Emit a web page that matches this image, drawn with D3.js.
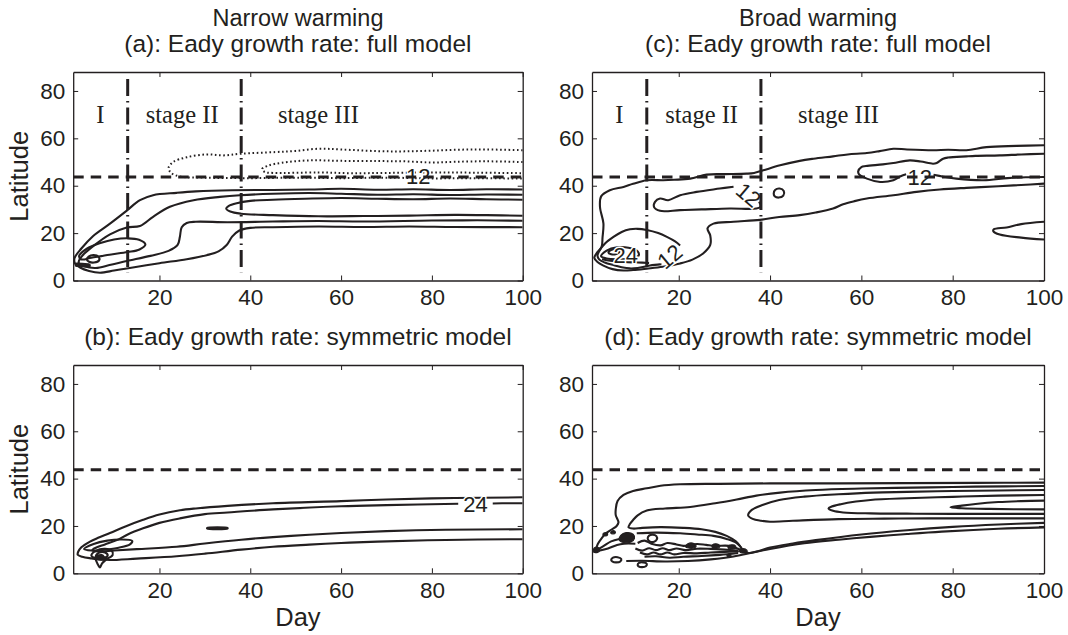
<!DOCTYPE html>
<html>
<head>
<meta charset="utf-8">
<script src="https://cdn.jsdelivr.net/npm/d3@7"></script>
<style>
body { margin: 0; background: #fff; }
svg text { font-family: "Liberation Sans", Arial, Helvetica, sans-serif; fill: #231f20; }
</style>
</head>
<body>
<svg id="chart" width="1068" height="635"></svg>
<script>
// ---- axes, titles and reference lines
var dayDomain = [1, 100];
var latDomain = [0, 88];
var xTickValues = [20, 40, 60, 80, 100];
var yTickValues = [0, 20, 40, 60, 80];
var columnTitles = ["Narrow warming", "Broad warming"];
var panelTitles = [
    "(a): Eady growth rate: full model",
    "(b): Eady growth rate: symmetric model",
    "(c): Eady growth rate: full model",
    "(d): Eady growth rate: symmetric model"
];
var stageDays = [13, 38];
var stageSpan = [3.5, 85];
var jetLatitude = 43.7;
var stageNames = ["I", "stage II", "stage III"];
var stageNameDays = [7, 25, 55];
var stageNameLat = 66.3;

// ---- (a) narrow warming, full model: contour lines as [day, latitude]
var aLevel1 = [[100,38.4],[92,38.5],[84,38.2],[76,38.5],[68,38.3],[60,38.7],[53,38.4],[45,38.2],[36,38.1],[28,37.6],[23.8,37],[18.6,36],[15.7,33.9],[12.8,29.5],[9.1,24],[5.4,18.8],[2.8,13.5],[1.3,9.5],[1.4,7.2],[2.5,5.5],[4.5,4],[6.9,3.3],[10,4.2],[12.8,5.1],[20,7.3],[26,9],[30.4,10.7],[33,12.3],[34.8,15],[36,18.5],[37.5,21],[40,22.2],[45,22.5],[55,22.8],[65,22.6],[75,22.8],[85,22.6],[100,22.5]];
var aLevel2 = [[100,36.2],[92,36.3],[84,36.1],[76,36.4],[68,36.2],[60,36.6],[53,36.9],[45,36.6],[37.7,36],[33.3,35.3],[27.5,33.9],[22.3,31.1],[18.6,26.9],[15.7,23],[12.8,22.4],[9.1,19.5],[5.4,14.5],[2.8,10],[2.2,7.6],[3.5,6],[6,5.3],[9,6.5],[12.8,8.2],[18,10.4],[22,12.5],[24,15],[24.5,18.5],[24.9,22.5],[26,24.3],[28,24.8],[35,24.6],[45,24.9],[55,25.1],[65,24.9],[80,25.3],[90,25.4],[100,25.2]];
var aLevel3 = [[100,34.1],[92,34.3],[84,34.6],[76,34.3],[68,34.5],[60,34.8],[52,34.5],[45,34.1],[40,33.6],[37,32.6],[35.2,31.4],[34.7,30.4],[35.6,29.1],[38,28.2],[45,27.6],[55,27.1],[65,27.2],[75,27.4],[85,27.7],[92,27.6],[100,27.3]];
var aCore = [[2.3,10.3],[4,13.4],[7,15.8],[10,17.3],[13,17.8],[15.5,17.2],[16.9,15.2],[15.6,13.1],[13,12],[9,10.9],[5,9.6],[2.8,8.9]];
var aPeak = [[4,8.8],[4.4,10.1],[5.5,10.7],[6.6,10],[6.7,8.5],[5.6,7.6],[4.5,7.9]];
var aKnot = [[1.8,6.6],[3,6.5],[4.4,6.3]];
var aNeg1 = [[100,55],[92,55.3],[86,55.2],[80,54.8],[74,54.5],[68,54.6],[60,55.3],[55,55.6],[50,54.7],[45.5,54.2],[38,53.5],[34,52.8],[30.4,53.2],[26,52],[23,50],[22,47.5],[22.6,45.4],[24.5,43.9],[30,43.4],[40,43.2],[50,43.4],[60,43.2],[70,43.4],[80,43.1],[90,43.2],[100,43]];
var aNeg2 = [[100,50],[92,50.3],[85,50.1],[80,49.8],[74,50.3],[68,50.4],[60,50.5],[53,50.7],[47,49.7],[44,48.5],[42.6,47],[43.2,45.8],[45,45.4],[55,45.6],[62,45.3],[70,45.4],[80,45.6],[90,45.5],[100,45.3]];
var aLabels = [{text: "12", day: 77, lat: 44, angle: 0}];

// ---- (b) narrow warming, symmetric model
var bLevel1 = [[100,32.1],[85,31.8],[70,31.2],[60,30.5],[45,29.6],[35,28.5],[28,27.4],[24.5,26.6],[20,24.8],[16.4,22.6],[12.5,19.8],[9.1,17],[6.5,15],[4.7,13.4],[2.8,11],[2.1,9.1],[2,7.8],[3,7],[5,6.3],[7,5.8],[9.1,5.6],[15,6.2],[23.8,7.2],[30,8.3],[38,10],[45,11.2],[53,12.1],[60,12.8],[68,13.4],[83,14.1],[100,14.4]];
var bLevel2 = [[85.8,29.4],[70,28.8],[60,28.3],[45,27],[35,25.7],[30,25],[24.5,23.2],[20,21.3],[16.4,19],[13,16.4],[10.6,14],[8,12.2],[6,10.8],[5.2,9.8],[6.5,9.2],[10,9.6],[15,10.2],[23.8,11.2],[30,12.6],[38,14.2],[45,15.3],[53,16.3],[60,17],[70,17.8],[83,18.4],[100,18.6]];
var bLevel2End = [[93.4,29.5],[97,29.6],[100,29.6]];
var bLoop = [[3.4,10.3],[5.5,12.4],[8.5,13.8],[11.5,14.3],[14,13.7],[13.5,12.2],[11,10.8],[8,10],[5,9.6]];
var bRing1 = [[5,7.5],[6,9.5],[8,10.3],[9.5,9.5],[9.7,7.8],[8.5,6.3],[6.5,5.9]];
var bRing2 = [[6,7.3],[6.8,8.8],[8,8.8],[8.6,7.6],[7.8,6.5],[6.7,6.6]];
var bSpike = [[5.8,6.5],[6.5,3.5],[6.9,2.5],[7.3,4],[8.5,6.3]];
var bKnot = [[6.2,6.8],[7.2,7.2],[7.6,6.5]];
var bSpeck = [[30.5,19.1],[35,19.1],[35,18.9],[30.5,18.9]];
var bLabels = [{text: "24", day: 89.6, lat: 29.4, angle: 0}];

// ---- (c) broad warming, full model
var cLevel1 = [[100,57.1],[94,56.8],[87.4,56.3],[83,55],[79,55.2],[75.7,55],[70,55.3],[67,55.6],[64,54.6],[61.2,53.8],[57,53.2],[53.8,52.4],[49.5,51.4],[46.5,50.5],[42.2,48.6],[38.5,46.5],[36.5,45.4],[34.9,45.1],[30,44.9],[26.1,44.7],[22.5,43],[19,42.5],[16.6,42.3],[13,42.3],[10,40.8],[7.9,39.5],[4.9,38.1],[3,35.5],[2.75,31],[3.5,24.1],[3.3,18],[3.1,14.2],[2,11.5],[1.5,9.5],[2.2,7.8],[3.5,6.3],[5.5,4.8],[7.9,4.2],[10,4.4],[13,5],[16.5,5.8],[20.3,7.2],[23,8.8],[25.4,11.5],[26.9,15],[26.9,19],[26.3,22],[27.6,24],[32,24.8],[37.8,25.6],[42,26.8],[46.5,27.6],[50,28.7],[53.8,30.4],[56,32.2],[58.5,33.5],[61.2,34.6],[67,36],[72.1,37.4],[77.2,38.4],[83,39.1],[90,39.8],[95,40.3],[100,40.9]];
var cLevel2 = [[100,53.5],[95,53.2],[90.3,52.8],[85,52.6],[83,52.4],[79,51.9],[77.9,51.4],[76.5,49.6],[75.7,49.3],[73,50.2],[70.6,50.7],[67,49.6],[64.7,49],[61,48.3],[60,47.9],[59.3,46],[59.5,44.8],[61.2,43],[64.1,41.6],[67,42.3],[68.6,44],[69.8,44.8]];
var cLevel2End = [[75.8,44.6],[78,43.8],[80.8,43],[86.7,42.3],[92,43.2],[96,43.6],[100,43.7]];
var cTongue = [[100,24.8],[95,23.8],[91.8,22.4],[89,21.6],[88.9,20.8],[90.3,19.4],[95,18.1],[100,17.3]];
var cStageLoop = [[37.6,33.3],[37.9,31.2],[37,30.4],[31.2,30.4],[25,30],[20.3,29.7],[15.9,29.4],[14.6,31],[14.8,33.2],[15.9,34.6],[17.7,33.9],[20.3,36],[23.9,37.4],[29,38.8],[32,39.6]];
var cDot = [[40.8,36.7],[41.1,38.2],[42.1,38.8],[43,37.8],[42.9,35.8],[41.9,35],[41,35.6]];
var cLowLoop = [[16.2,6.9],[13.7,6.3],[11,5.3],[9.3,5.1],[7.5,5.6],[5.7,6.5],[3.8,7.6],[2.6,8.8],[2.2,10.5],[2.6,12.5],[3.8,15.5],[5.7,18.4],[7.5,20.5],[9.3,21.6],[11,21.8],[13,21.3],[15.5,20],[17.4,18.4],[19.2,16.5],[20.3,14.8]];
var cLoop24 = [[3,10.2],[4.2,12.6],[6.5,14],[9,13.8],[11,12.3],[11.2,10.5],[9.5,9.3],[6.5,9],[4.2,9.3]];
var cPeak = [[4.6,11.8],[5.3,13],[6.5,13.2],[7,12.2],[6.3,11.2],[5.2,11.1]];
var cStreak = [[3.2,9],[5,8.3],[8,7.8],[11,7.6],[13.5,7.4]];
var cLabels = [
    {text: "12", day: 35.3, lat: 36.2, angle: 40},
    {text: "12", day: 72.8, lat: 43.5, angle: 0},
    {text: "12", day: 18, lat: 10.2, angle: -40},
    {text: "24", day: 8.4, lat: 10.8, angle: 0}
];

// ---- (d) broad warming, symmetric model
var dLevel1Top = [[100,38.3],[85,38.2],[70,38.1],[55,38],[40,38],[28.7,37.8],[20.3,37.6],[16,37],[13,35.9],[10,34.8],[7.9,33.1],[6.6,30.5],[6.2,27],[6.2,24.6],[6.8,21.5],[6.4,20],[5.3,18.5],[4,16.8],[3.1,14.8],[2.3,12.5],[2,11],[1.8,9.5]];
var dLevel1Low = [[8.5,5.2],[12,5.3],[17,5],[22,5.2],[27,5.9],[32,7.1],[36,8.7],[40,10.3],[47.5,12.7],[55,14.2],[62.6,15.5],[70,16.6],[77.6,17.6],[90,18.8],[100,19.4]];
var dLevel2 = [[100,36.9],[85,36.6],[75,36.3],[60,35.8],[50,35.2],[42.2,34.1],[37,32.8],[32.7,31.2],[28,29.6],[22.5,28],[17,27.4],[13,26.5],[11,24.5],[10,22.5],[9.3,20.8],[9,19.4],[10,18.9],[12,19.2],[16,19.5],[21,19.2],[25,18.6],[28,17.5],[30.5,15.8],[32.5,13.5],[33.6,11],[34.2,9.2],[35.5,8.6],[37.5,9.4],[40,10.9],[45,12.6],[50,14],[60,16.4],[70,18.2],[80,19.6],[90,20.6],[100,21.3]];
var dLevel3 = [[100,35.2],[90,35],[80,34.8],[70,34.4],[62.6,34.1],[55,33.4],[47.5,32.4],[42,31],[38.5,29],[36,26.8],[35.2,24.5],[36.2,23],[38,22.2],[40,21.8],[45,22.2],[55,22.9],[65,23.1],[75,23.2],[90,23.2],[100,23.2]];
var dLevel4 = [[100,33.1],[90,32.8],[80,32.3],[70,31.7],[62,31],[58.8,30.3],[55.5,29.2],[53.5,28.2],[52.8,27.4],[53.8,26.4],[56,25.7],[62,25.3],[70,25.2],[80,25.1],[100,25.1]];
var dLevel5 = [[100,30.7],[95,30.5],[90,30.1],[85,29.3],[82,28.6],[79.5,27.9],[82,27.5],[88,27.2],[100,27]];
var dInner = [[10.8,16.9],[15,17.2],[20.3,16.9],[24,16.4],[27.6,15.8],[30.5,14.5],[32.7,12.7],[33.8,10],[33,9.2]];
var dWave1 = [[11,12.8],[12.5,13.8],[14,12.5],[16,11.8],[17.5,12.8],[19.5,12.2],[21,11.6],[24,12.4],[26,12],[28,11.6],[31,11.6],[33,10.4],[34.2,9.5]];
var dWave2 = [[10.5,10.5],[12,9.6],[13.5,10.6],[15,9.8],[16.5,10.6],[18,9.8],[19.5,10.5],[21.5,9.8],[24,10.4],[27,10.3],[30,10],[33,9.6]];
var dWave3 = [[11.5,8.8],[13,8],[14.5,8.8],[16,8],[17.5,8.8],[19,8],[21,8.6],[24,8.4],[27,8.8],[30,9],[33,9.2]];
var dWave4 = [[12.5,7],[15,7.2],[18,6.6],[21,7],[25,7.3],[29,7.8],[33,8.6]];
var dLeft1 = [[2,9.8],[3.5,11.5],[5.2,13.5],[7,14.5]];
var dLeft2 = [[2.5,9.5],[4.5,10.5],[6.5,12],[8,12.5],[10.5,12.5]];
var dRing1 = [[13.2,14.5],[13.5,15.9],[14.3,16.3],[15.1,15.7],[15.2,14.3],[14.6,13.3],[13.6,13.5]];
var dRing2 = [[5.2,5.6],[5.6,6.6],[6.6,6.8],[7.4,6.1],[7.2,5],[6.3,4.6],[5.5,4.9]];
var dRing3 = [[11,3.5],[11.3,4.4],[12.2,4.6],[13,4],[12.8,3],[12,2.6],[11.2,2.9]];
var dBlob1 = [[1.3,9],[1.5,10.7],[2.3,11],[2.7,10],[2.2,8.8]];
var dBlob2 = [[7,14],[7.3,16],[8.5,17.2],[10,16.5],[10.3,14.8],[9.5,13.2],[8,13]];
var dBlob3 = [[21.5,11.2],[22,12.5],[23.3,12.6],[23.8,11.5],[23,10.6]];
var dBlob4 = [[27.3,11],[27.5,12.2],[28.6,12.3],[29,11.3],[28.2,10.6]];
var dBlob5 = [[30.8,10.7],[31,11.8],[32.2,11.9],[32.5,10.9],[31.8,10.3]];
var dBlob6 = [[33.4,9],[33.6,10.1],[34.6,10.2],[35,9.2],[34.2,8.6]];
var dBlob7 = [[3.4,16.2],[3.6,17],[4.3,17],[4.4,16.2],[3.9,15.8]];
var dBlob8 = [[5.1,17],[5.3,17.8],[6,17.8],[6.1,17],[5.6,16.6]];
var dBlob9 = [[30.6,7.3],[30.7,8],[31.3,8],[31.4,7.3]];

var ink = "#231f20";
var svg = d3.select("#chart");

function lineSet(open, closed, dotted, knots, blobs) {
    var list = [];
    (open || []).forEach(function(p) { list.push({pts: p, closed: false, kind: "solid"}); });
    (closed || []).forEach(function(p) { list.push({pts: p, closed: true, kind: "solid"}); });
    (dotted || []).forEach(function(p) { list.push({pts: p, closed: false, kind: "dotted"}); });
    (knots || []).forEach(function(p) { list.push({pts: p, closed: false, kind: "knot"}); });
    (blobs || []).forEach(function(p) { list.push({pts: p, closed: true, kind: "blob"}); });
    return list;
}

var panels = [
    {id: "a", left: 73.2, top: 72, width: 449.5, height: 208.5, title: panelTitles[0], column: columnTitles[0],
     stages: true, xLabel: false,
     lines: lineSet([aLevel1, aLevel2, aLevel3], [aCore, aPeak], [aNeg1, aNeg2], [aKnot], []),
     labels: aLabels},
    {id: "b", left: 73.2, top: 365, width: 449.5, height: 208.3, title: panelTitles[1],
     stages: false, xLabel: true,
     lines: lineSet([bLevel1, bLevel2, bLevel2End, bSpike], [bLoop, bRing1, bRing2, bSpeck], [], [bKnot], []),
     labels: bLabels},
    {id: "c", left: 592, top: 72, width: 452, height: 208.5, title: panelTitles[2], column: columnTitles[1],
     stages: true, xLabel: false,
     lines: lineSet([cLevel1, cLevel2, cLevel2End, cTongue, cStageLoop, cLowLoop, cStreak], [cDot, cLoop24, cPeak], [], [], []),
     labels: cLabels},
    {id: "d", left: 592, top: 365, width: 452, height: 208.3, title: panelTitles[3],
     stages: false, xLabel: true,
     lines: lineSet([dLevel1Top, dLevel1Low, dLevel2, dLevel3, dLevel4, dLevel5, dInner, dWave1, dWave2, dWave3, dWave4, dLeft1, dLeft2],
                    [dRing1, dRing2, dRing3], [], [],
                    [dBlob1, dBlob2, dBlob3, dBlob4, dBlob5, dBlob6, dBlob7, dBlob8, dBlob9]),
     labels: []}
];

panels.forEach(function(p, i) {
    var x = d3.scaleLinear().domain(dayDomain).range([p.left, p.left + p.width]);
    var y = d3.scaleLinear().domain(latDomain).range([p.top + p.height, p.top]);
    var cx = p.left + p.width / 2;

    var clipId = "clip-" + p.id;
    svg.append("clipPath").attr("id", clipId)
        .append("rect")
        .attr("x", p.left).attr("y", p.top)
        .attr("width", p.width).attr("height", p.height);

    var g = svg.append("g").attr("clip-path", "url(#" + clipId + ")");

    var openLine = d3.line().x(function(d) { return x(d[0]); }).y(function(d) { return y(d[1]); })
        .curve(d3.curveCatmullRom.alpha(0.5));
    var closedLine = d3.line().x(function(d) { return x(d[0]); }).y(function(d) { return y(d[1]); })
        .curve(d3.curveCatmullRomClosed.alpha(0.5));

    p.lines.forEach(function(c) {
        var path = g.append("path")
            .attr("d", c.closed ? closedLine(c.pts) : openLine(c.pts))
            .attr("fill", c.kind == "blob" ? ink : "none")
            .attr("stroke", ink)
            .attr("stroke-linejoin", "round");
        if (c.kind == "dotted") {
            path.attr("stroke-width", 2).attr("stroke-dasharray", "1.6,2.6");
        } else if (c.kind == "knot") {
            path.attr("stroke-width", 4.5).attr("stroke-linecap", "round");
        } else {
            path.attr("stroke-width", c.kind == "blob" ? 1.2 : 2.1);
        }
    });

    // contour level labels, lines broken under them
    p.labels.forEach(function(l) {
        g.append("text")
            .attr("transform", "translate(" + x(l.day) + "," + y(l.lat) + ") rotate(" + l.angle + ")")
            .attr("text-anchor", "middle")
            .attr("dy", "0.36em")
            .style("font-size", "22px")
            .attr("stroke", "#fff")
            .attr("stroke-width", 3)
            .attr("paint-order", "stroke")
            .text(l.text);
    });

    // reference latitude and stage boundaries
    var refLine = d3.line().x(function(d) { return x(d[0]); }).y(function(d) { return y(d[1]); });
    g.append("path")
        .attr("d", refLine([[dayDomain[0], jetLatitude], [dayDomain[1], jetLatitude]]))
        .attr("stroke", ink).attr("stroke-width", 3)
        .attr("stroke-dasharray", "10.5,7")
        .attr("fill", "none");

    if (p.stages) {
        stageDays.forEach(function(day) {
            g.append("path")
                .attr("d", refLine([[day, stageSpan[1]], [day, stageSpan[0]]]))
                .attr("stroke", ink).attr("stroke-width", 3)
                .attr("stroke-dasharray", "17,5,1.5,5")
                .attr("fill", "none");
        });
        stageNames.forEach(function(name, k) {
            svg.append("text")
                .attr("x", x(stageNameDays[k]))
                .attr("y", y(stageNameLat))
                .attr("text-anchor", "middle")
                .style("font-family", "'Liberation Serif', 'Times New Roman', serif")
                .style("font-size", "24.5px")
                .text(name);
        });
    }

    // axes with inward ticks on all four sides
    var bottom = svg.append("g").attr("transform", "translate(0," + (p.top + p.height) + ")")
        .call(d3.axisBottom(x).tickValues(xTickValues).tickSizeInner(-5).tickSizeOuter(0).tickPadding(9));
    var top = svg.append("g").attr("transform", "translate(0," + p.top + ")")
        .call(d3.axisTop(x).tickValues(xTickValues).tickSizeInner(-5).tickSizeOuter(0).tickFormat(""));
    var left = svg.append("g").attr("transform", "translate(" + p.left + ",0)")
        .call(d3.axisLeft(y).tickValues(yTickValues).tickSizeInner(-5).tickSizeOuter(0).tickPadding(8));
    var right = svg.append("g").attr("transform", "translate(" + (p.left + p.width) + ",0)")
        .call(d3.axisRight(y).tickValues(yTickValues).tickSizeInner(-5).tickSizeOuter(0).tickFormat(""));

    [bottom, top, left, right].forEach(function(ax) {
        ax.selectAll("path.domain").attr("stroke", ink).attr("stroke-width", 1.3);
        ax.selectAll(".tick line").attr("stroke", ink).attr("stroke-width", 1);
        ax.selectAll("text").style("font-size", "22.5px").attr("fill", ink)
            .style("font-family", "'Liberation Sans', Arial, Helvetica, sans-serif");
    });

    // titles and axis labels
    if (p.column) {
        svg.append("text").attr("x", cx).attr("y", 26)
            .attr("text-anchor", "middle").style("font-size", "23.5px").text(p.column);
    }
    svg.append("text").attr("x", cx).attr("y", p.top - 20)
        .attr("text-anchor", "middle").style("font-size", "24.5px").text(p.title);

    if (p.left < 300) {
        svg.append("text")
            .attr("transform", "translate(28," + (p.top + p.height / 2) + ") rotate(-90)")
            .attr("text-anchor", "middle").style("font-size", "25.5px").text("Latitude");
    }
    if (p.xLabel) {
        svg.append("text").attr("x", cx).attr("y", 626)
            .attr("text-anchor", "middle").style("font-size", "25.5px").text("Day");
    }
});
</script>
</body>
</html>
